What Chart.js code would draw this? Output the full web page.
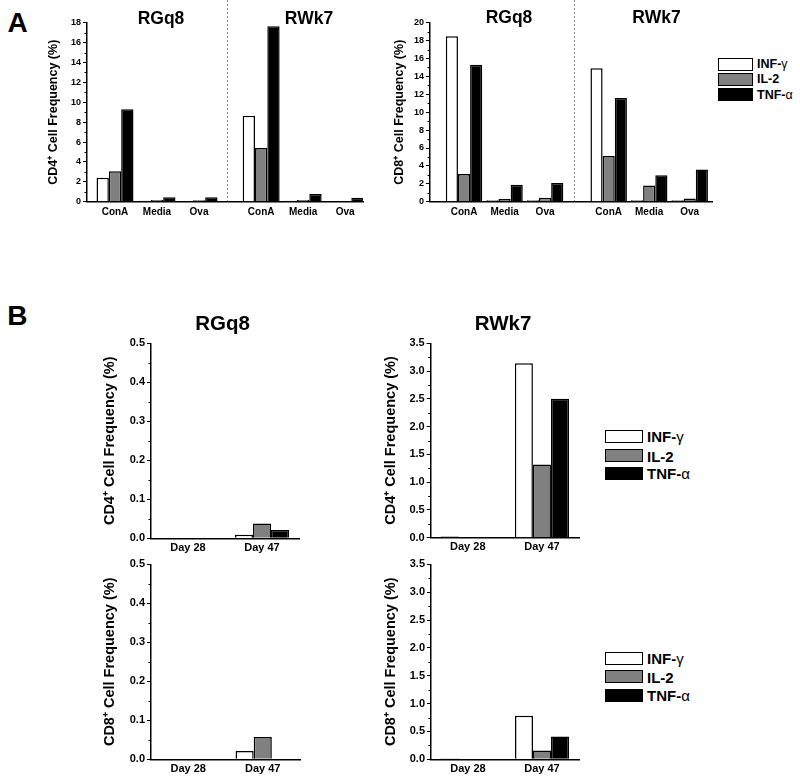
<!DOCTYPE html>
<html><head><meta charset="utf-8">
<script src="https://cdn.jsdelivr.net/npm/chart.js@4/dist/chart.umd.min.js"></script>
<style>
body{margin:0;background:#fff;}
#page{position:relative;width:800px;height:782px;overflow:hidden;font-family:"Liberation Sans",Arial,sans-serif;font-weight:bold;color:#000;background:#fff}
canvas{position:absolute}
.t{position:absolute;white-space:nowrap;line-height:1;transform:translate(-50%,-50%)}
.sw{position:absolute;border:1.5px solid #000;box-sizing:border-box}
.lt{position:absolute;white-space:nowrap;line-height:1;transform:translateY(-50%)}
.g{font-weight:normal}
</style></head><body><div id="page">
<canvas id="a1" width="330" height="220" style="left:40px;top:0px"></canvas>
<canvas id="a2" width="335" height="220" style="left:380px;top:0px"></canvas>
<canvas id="b1" width="210" height="260" style="left:100px;top:300px"></canvas>
<canvas id="b2" width="210" height="260" style="left:380px;top:300px"></canvas>
<canvas id="b3" width="210" height="227" style="left:100px;top:555px"></canvas>
<canvas id="b4" width="210" height="227" style="left:380px;top:555px"></canvas>
</div>
<script>
// ---------- data ----------
const groupNames = ['RGq8', 'RWk7'];
const stimCategories = ['ConA', 'Media', 'Ova', 'ConA', 'Media', 'Ova'];
const cytokines = ['INF-γ', 'IL-2', 'TNF-α'];

// Panel A, CD4+ (RGq8: ConA, Media, Ova | RWk7: ConA, Media, Ova)
const cd4INF = [2.4, 0.1, 0.05, 8.65, 0.1, 0.05];
const cd4IL2 = [3.05, 0.17, 0.15, 5.4, 0.17, 0.05];
const cd4TNF = [9.3, 0.44, 0.44, 17.65, 0.77, 0.4];
// Panel A, CD8+
const cd8INF = [18.5, 0.15, 0.15, 14.9, 0.15, 0.15];
const cd8IL2 = [3.1, 0.3, 0.45, 5.1, 1.8, 0.35];
const cd8TNF = [15.3, 1.9, 2.1, 11.6, 2.95, 3.6];

// Panel B
const dayCategories = ['Day 28', 'Day 47'];
const rgq8CD4INF = [0, 0.009], rgq8CD4IL2 = [0, 0.038], rgq8CD4TNF = [0, 0.021];
const rwk7CD4INF = [0.02, 3.14], rwk7CD4IL2 = [0, 1.32], rwk7CD4TNF = [0, 2.5];
const rgq8CD8INF = [0, 0.021], rgq8CD8IL2 = [0, 0.057], rgq8CD8TNF = [0, 0];
const rwk7CD8INF = [0.02, 0.78], rwk7CD8IL2 = [0, 0.16], rwk7CD8TNF = [0, 0.41];

// tick labels
const yTicksCD4A = [0, 2, 4, 6, 8, 10, 12, 14, 16, 18];
const yTicksCD8A = [0, 2, 4, 6, 8, 10, 12, 14, 16, 18, 20];
const yTicksRGq8B = [0, 0.1, 0.2, 0.3, 0.4, 0.5];
const yTicksRWk7B = [0, 0.5, 1.0, 1.5, 2.0, 2.5, 3.0, 3.5];

// ---------- styling ----------
const FAM = '"Liberation Sans", Arial, sans-serif';
const COLORS = ['#ffffff', '#808080', '#000000'];

const minorTicks = {
  id: 'minorTicks',
  afterDraw(chart, args, o) {
    if (!o || !o.step) return;
    const y = chart.scales.y, ctx = chart.ctx;
    ctx.save(); ctx.strokeStyle = '#000'; ctx.lineWidth = 1;
    const n = Math.round((y.max - y.min) / o.step);
    for (let k = 1; k < n; k++) {
      if (k % 2 === 0) continue;
      const py = Math.round(y.getPixelForValue(y.min + k * o.step)) + 0.5;
      ctx.beginPath(); ctx.moveTo(y.right - 2.5, py); ctx.lineTo(y.right, py); ctx.stroke();
    }
    ctx.restore();
  }
};
const divider = {
  id: 'divider',
  beforeDraw(chart, args, o) {
    if (!o || o.at === undefined) return;
    const x = Math.round(chart.scales.x.getPixelForValue(o.at)) + 0.5, ctx = chart.ctx;
    ctx.save(); ctx.strokeStyle = '#8a8a8a'; ctx.lineWidth = 1; ctx.setLineDash([2, 2]);
    ctx.beginPath(); ctx.moveTo(x, 0); ctx.lineTo(x, chart.chartArea.bottom); ctx.stroke();
    ctx.restore();
  }
};
Chart.register(minorTicks, divider);

function yScale(ticksArr, max, title, o) {
  return {
    min: 0, max: max, bounds: 'data',
    afterBuildTicks: s => { s.ticks = ticksArr.map(v => ({ value: v })); },
    afterFit: s => { s.width = o.yw; },
    ticks: { color: '#000', padding: 2, font: { family: FAM, weight: 'bold', size: o.tick },
      callback: v => o.dec ? Number(v).toFixed(1) : String(v) },
    grid: { display: true, drawOnChartArea: false, drawTicks: true, tickLength: 4, color: '#000', lineWidth: 1 },
    border: { display: true, color: '#000', width: 1.5 },
    title: { display: true, text: title, color: '#000', font: { family: FAM, weight: 'bold', size: o.tsize, lineHeight: 1.2 },
      padding: { top: o.tpad, bottom: 0 } }
  };
}

function stimChart(id, inf, il2, tnf, yTicks, ymax, title, o) {
  const pos = stimCategories.map((c, i) => i + (i >= 3 ? o.gap : 0));
  const ds = [inf, il2, tnf].map((vals, k) => ({
    label: cytokines[k], data: vals.map((v, i) => ({ x: pos[i], y: v })),
    backgroundColor: COLORS[k], borderColor: '#000', borderWidth: 1.5,
    categoryPercentage: o.cat, barPercentage: 1
  }));
  return new Chart(document.getElementById(id), {
    type: 'bar',
    data: { datasets: ds },
    options: {
      responsive: false, animation: false, devicePixelRatio: 1,
      layout: { padding: { top: o.top, right: o.right, left: 0, bottom: 0 } },
      plugins: { legend: { display: false }, tooltip: { enabled: false },
        minorTicks: { step: o.minor }, divider: { at: o.div } },
      scales: {
        x: { type: 'linear', offset: false, min: o.xmin, max: o.xmax, bounds: 'data',
          afterBuildTicks: s => { s.ticks = pos.map(v => ({ value: v })); },
          afterFit: s => { s.height = o.xh; },
          ticks: { color: '#000', padding: 5, maxRotation: 0, autoSkip: false,
            font: { family: FAM, weight: 'bold', size: 10 },
            callback: (v, i) => stimCategories[i] },
          grid: { display: false, drawTicks: false, offset: false },
          border: { display: true, color: '#000', width: 1.5 } },
        y: yScale(yTicks, ymax, title, o)
      }
    }
  });
}

function dayChart(id, inf, il2, tnf, yTicks, ymax, title, o) {
  const ds = [inf, il2, tnf].map((vals, k) => ({
    label: cytokines[k], data: vals,
    backgroundColor: COLORS[k], borderColor: '#000', borderWidth: 1.5,
    categoryPercentage: 0.73, barPercentage: 1
  }));
  return new Chart(document.getElementById(id), {
    type: 'bar',
    data: { labels: dayCategories, datasets: ds },
    options: {
      responsive: false, animation: false, devicePixelRatio: 1,
      layout: { padding: { top: o.top, right: o.right, left: 0, bottom: 0 } },
      plugins: { legend: { display: false }, tooltip: { enabled: false }, minorTicks: { step: o.minor } },
      scales: {
        x: { afterFit: s => { s.height = o.xh; },
          ticks: { color: '#000', padding: 3, maxRotation: 0, font: { family: FAM, weight: 'bold', size: 11 } },
          grid: { display: false, drawTicks: false },
          border: { display: true, color: '#000', width: 1.5 } },
        y: yScale(yTicks, ymax, title, o)
      }
    }
  });
}

const cd4Title = 'CD4\u207A Cell Frequency (%)';
const cd8Title = 'CD8\u207A Cell Frequency (%)';

stimChart('a1', cd4INF, cd4IL2, cd4TNF, yTicksCD4A, 18, cd4Title,
  { gap: 0.48, cat: 0.88, xmin: -0.667, xmax: 5.905, div: 2.67, top: 22.7, right: 7, xh: 18.3, yw: 47,
    tick: 9, tsize: 12.5, tpad: 6.5, minor: 1 });
stimChart('a2', cd8INF, cd8IL2, cd8TNF, yTicksCD8A, 20, cd8Title,
  { gap: 0.57, cat: 0.9, xmin: -0.84, xmax: 6.12, div: 2.72, top: 22.7, right: 3, xh: 18.3, yw: 50,
    tick: 9, tsize: 12.5, tpad: 12.5, minor: 1 });

dayChart('b1', rgq8CD4INF, rgq8CD4IL2, rgq8CD4TNF, yTicksRGq8B, 0.5, cd4Title,
  { top: 43.3, right: 11, xh: 21.7, yw: 51, tick: 11, tsize: 14.5, tpad: 1.3, minor: 0.05, dec: true });
dayChart('b2', rwk7CD4INF, rwk7CD4IL2, rwk7CD4TNF, yTicksRWk7B, 3.5, cd4Title,
  { top: 43.3, right: 11, xh: 22.3, yw: 50.7, tick: 11, tsize: 14.5, tpad: 1.8, minor: 0.25, dec: true });
dayChart('b3', rgq8CD8INF, rgq8CD8IL2, rgq8CD8TNF, yTicksRGq8B, 0.5, cd8Title,
  { top: 9.3, right: 10, xh: 22.7, yw: 51, tick: 11, tsize: 14.5, tpad: 1.3, minor: 0.05, dec: true });
dayChart('b4', rwk7CD8INF, rwk7CD8IL2, rwk7CD8TNF, yTicksRWk7B, 3.5, cd8Title,
  { top: 9.3, right: 11, xh: 22.7, yw: 51, tick: 11, tsize: 14.5, tpad: 1.8, minor: 0.25, dec: true });

// ---------- text: panel letters, group titles, legends ----------
const page = document.getElementById('page');
function txt(s, cx, cy, size) {
  const d = document.createElement('div'); d.className = 't';
  d.style.left = cx + 'px'; d.style.top = cy + 'px'; d.style.fontSize = size + 'px';
  d.textContent = s; page.appendChild(d);
}
txt('A', 17.5, 23, 28);
txt('B', 17.3, 316, 28);
txt(groupNames[0], 161, 18.8, 17.5); txt(groupNames[1], 309, 18.8, 17.5);
txt(groupNames[0], 509, 18.3, 17.5); txt(groupNames[1], 656.5, 18.3, 17.5);
txt(groupNames[0], 222.5, 323.3, 20.5); txt(groupNames[1], 503, 323, 20.5);

function legend(x, ys, w, h, tx, size) {
  cytokines.forEach((name, k) => {
    const b = document.createElement('div'); b.className = 'sw';
    b.style.left = x + 'px'; b.style.top = (ys[k] - h / 2) + 'px';
    b.style.width = w + 'px'; b.style.height = h + 'px'; b.style.background = COLORS[k];
    page.appendChild(b);
    const t = document.createElement('div'); t.className = 'lt';
    t.style.left = tx + 'px'; t.style.top = ys[k] + 'px'; t.style.fontSize = size + 'px';
    const m = name.match(/^(.*-)([γα])$/);
    if (m) { t.textContent = m[1]; const g = document.createElement('span'); g.className = 'g'; g.textContent = m[2]; t.appendChild(g); }
    else t.textContent = name;
    page.appendChild(t);
  });
}
legend(718, [64, 79, 94.5], 35, 13, 757, 12.5);
legend(605, [436.3, 455.5, 473.3], 38, 13, 647, 15);
legend(605, [658, 676.7, 695], 38, 13, 647, 15);
</script>
</body></html>
